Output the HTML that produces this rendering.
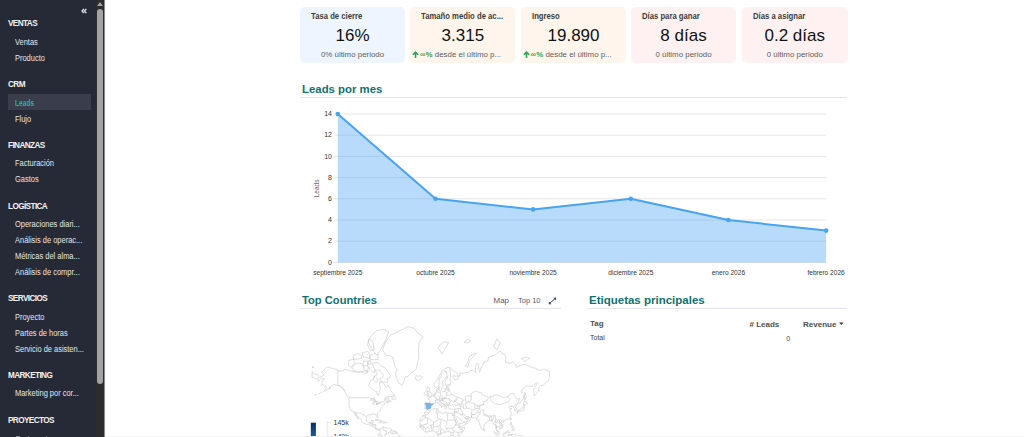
<!DOCTYPE html>
<html><head><meta charset="utf-8">
<style>
*{margin:0;padding:0;box-sizing:border-box}
html,body{width:1024px;height:437px;overflow:hidden;background:#fff;font-family:"Liberation Sans",sans-serif}
.abs{position:absolute;white-space:nowrap}
#side{position:absolute;left:0;top:0;width:96px;height:437px;background:#262a36;color:#e6e6e6}
#track{position:absolute;left:96px;top:0;width:8px;height:437px;background:#2c2c2c}
#thumb{position:absolute;left:97px;top:9px;width:6px;height:375px;background:#a3a3a3;border-radius:3px}
#arrow{position:absolute;left:97px;top:2px;width:0;height:0;border-left:3px solid transparent;border-right:3px solid transparent;border-bottom:4px solid #a3a3a3}
#sb{position:absolute;left:104px;top:0;width:1px;height:437px;background:#8a8a8a}
.h{position:absolute;left:8px;font-weight:bold;font-size:8.2px;letter-spacing:-0.6px;color:#f2f2f2;margin-top:1px}
.it{position:absolute;left:15px;font-size:8.3px;color:#e6e6e6;margin-top:0.2px;transform:scaleX(0.9);transform-origin:0 0}
.card{position:absolute;top:6.5px;height:56.3px;width:105px;border-radius:5px}
.card .l{position:absolute;left:11px;top:4px;font-size:8.4px;font-weight:bold;color:#3c3c3c;transform:scaleX(0.92);transform-origin:0 0}
.card .v{position:absolute;left:0;right:0;top:19px;text-align:center;font-size:17px;color:#111}
.card .s{position:absolute;left:0;right:0;top:43px;text-align:center;font-size:7.9px;color:#5e5e5e}
.card .s2{position:absolute;left:2px;top:43px;font-size:7.9px;color:#5e5e5e;white-space:nowrap}
.title{position:absolute;font-weight:bold;color:#11716f}
.rule{position:absolute;height:1px;background:#e2e2e2}
</style></head><body>
<div id="side">
  <svg style="position:absolute;left:81.4px;top:8.3px" width="6" height="6" viewBox="0 0 7 7"><path d="M3.4 1L1.2 3.5L3.4 6M6.2 1L4 3.5L6.2 6" stroke="#e4e8ee" stroke-width="1.5" fill="none"/></svg>
  <div class="h" style="top:18px">VENTAS</div>
  <div class="it" style="top:37px">Ventas</div>
  <div class="it" style="top:53px">Producto</div>
  <div class="h" style="top:79px">CRM</div>
  <div style="position:absolute;left:8px;top:94px;width:83px;height:16px;background:#3a3d4b"></div>
  <div class="it" style="top:98px;color:#1cb5a3;font-weight:bold;transform:scaleX(0.8)">Leads</div>
  <div class="it" style="top:114px">Flujo</div>
  <div class="h" style="top:140px">FINANZAS</div>
  <div class="it" style="top:158px">Facturación</div>
  <div class="it" style="top:174px">Gastos</div>
  <div class="h" style="top:201px">LOGÍSTICA</div>
  <div class="it" style="top:219px">Operaciones diari...</div>
  <div class="it" style="top:235px">Análisis de operac...</div>
  <div class="it" style="top:251px">Métricas del alma...</div>
  <div class="it" style="top:267px">Análisis de compr...</div>
  <div class="h" style="top:293px">SERVICIOS</div>
  <div class="it" style="top:312px">Proyecto</div>
  <div class="it" style="top:328px">Partes de horas</div>
  <div class="it" style="top:344px">Servicio de asisten...</div>
  <div class="h" style="top:370px">MARKETING</div>
  <div class="it" style="top:388px">Marketing por cor...</div>
  <div class="h" style="top:415px">PROYECTOS</div>
  <div style="position:absolute;left:15.6px;top:436px;width:4.4px;height:1px;background:#8a8d98"></div><div style="position:absolute;left:28px;top:436px;width:1px;height:1px;background:#8a8d98"></div><div style="position:absolute;left:46px;top:436px;width:1.2px;height:1px;background:#8a8d98"></div>
</div>
<div id="track"></div>
<div id="arrow"></div>
<div id="thumb"></div>
<div id="sb"></div>

<!-- KPI cards -->
<div class="card" style="left:300px;background:#eef5ff">
  <div class="l abs">Tasa de cierre</div>
  <div class="v">16%</div>
  <div class="s">0% último periodo</div>
</div>
<div class="card" style="left:410.4px;background:#fff5ec">
  <div class="l abs">Tamaño medio de ac...</div>
  <div class="v">3.315</div>
  <div class="s2"><svg width="7" height="7" viewBox="0 0 7 7" style="vertical-align:-1.2px;margin-right:0.6px"><path d="M3.5 7V1.2M0.8 3.8L3.5 1.1L6.2 3.8" stroke="#2aa55c" stroke-width="1.6" fill="none"/></svg><span style="color:#2ea862;font-weight:bold">∞%</span> desde el último p...</div>
</div>
<div class="card" style="left:521px;background:#fff5ec">
  <div class="l abs">Ingreso</div>
  <div class="v">19.890</div>
  <div class="s2"><svg width="7" height="7" viewBox="0 0 7 7" style="vertical-align:-1.2px;margin-right:0.6px"><path d="M3.5 7V1.2M0.8 3.8L3.5 1.1L6.2 3.8" stroke="#2aa55c" stroke-width="1.6" fill="none"/></svg><span style="color:#2ea862;font-weight:bold">∞%</span> desde el último p...</div>
</div>
<div class="card" style="left:631px;background:#fff1f1">
  <div class="l abs">Días para ganar</div>
  <div class="v">8 días</div>
  <div class="s">0 último periodo</div>
</div>
<div class="card" style="left:742px;width:105.5px;background:#fff1f1">
  <div class="l abs">Días a asignar</div>
  <div class="v">0.2 días</div>
  <div class="s">0 último periodo</div>
</div>

<div class="title abs" style="left:302px;top:82.8px;font-size:11.4px">Leads por mes</div>
<div class="rule" style="left:300px;top:97px;width:547px"></div>
<!--CHART-->
<svg style="position:absolute;left:0;top:0" width="1024" height="437">
<g stroke="#e6e6e6" stroke-width="1"><line x1="333.5" x2="826.1" y1="262.4" y2="262.4"/><line x1="333.5" x2="826.1" y1="241.2" y2="241.2"/><line x1="333.5" x2="826.1" y1="220.0" y2="220.0"/><line x1="333.5" x2="826.1" y1="198.8" y2="198.8"/><line x1="333.5" x2="826.1" y1="177.6" y2="177.6"/><line x1="333.5" x2="826.1" y1="156.4" y2="156.4"/><line x1="333.5" x2="826.1" y1="135.2" y2="135.2"/><line x1="333.5" x2="826.1" y1="114.0" y2="114.0"/></g>
<polygon fill="#4fa6f5" fill-opacity="0.4" points="337.8,262.4 337.8,114.0 435.5,198.8 533.1,209.4 630.8,198.8 728.4,220.0 826.1,230.6 826.1,262.4"/>
<polyline fill="none" stroke="#48a3f2" stroke-width="2" stroke-linejoin="round" points="337.8,114.0 435.5,198.8 533.1,209.4 630.8,198.8 728.4,220.0 826.1,230.6"/>
<g fill="#48a3f2"><circle cx="337.8" cy="114.0" r="2.3"/><circle cx="435.5" cy="198.8" r="2.3"/><circle cx="533.1" cy="209.4" r="2.3"/><circle cx="630.8" cy="198.8" r="2.3"/><circle cx="728.4" cy="220.0" r="2.3"/><circle cx="826.1" cy="230.6" r="2.3"/></g>
<g font-family="Liberation Sans" font-size="7" fill="#333" text-anchor="end"><text x="332" y="264.6">0</text><text x="332" y="243.4">2</text><text x="332" y="222.2">4</text><text x="332" y="201.0">6</text><text x="332" y="179.8">8</text><text x="332" y="158.6">10</text><text x="332" y="137.4">12</text><text x="332" y="116.2">14</text></g>
<g font-family="Liberation Sans" font-size="6.6" fill="#333" text-anchor="middle"><text x="337.8" y="275.3">septiembre 2025</text><text x="435.5" y="275.3">octubre 2025</text><text x="533.1" y="275.3">noviembre 2025</text><text x="630.8" y="275.3">diciembre 2025</text><text x="728.4" y="275.3">enero 2026</text><text x="826.1" y="275.3">febrero 2026</text></g>
<text transform="translate(319.2,188.4) rotate(-90)" font-family="Liberation Sans" font-size="6.5" fill="#666" text-anchor="middle">Leads</text>
</svg>
<!--/CHART-->

<div class="title abs" style="left:302px;top:293.8px;font-size:11.2px">Top Countries</div>
<div class="rule" style="left:300px;top:308px;width:261px;background:#e4e4ee"></div>

<div class="title abs" style="left:589px;top:293.8px;font-size:11.5px">Etiquetas principales</div>
<div class="rule" style="left:587px;top:308px;width:260px;background:#e4e4ee"></div>

<!--MAP-->
<svg style="position:absolute;left:0;top:0" width="1024" height="437"><defs><clipPath id="mc"><rect x="300" y="310" width="260" height="127"/></clipPath><linearGradient id="lg" x1="0" y1="0" x2="0" y2="1"><stop offset="0" stop-color="#08306b"/><stop offset="1" stop-color="#2171b5"/></linearGradient></defs>
<g clip-path="url(#mc)">
<path d="M312.1 371.7L314.8 374.0L317.4 374.8L319.1 376.1L318.1 377.3L317.1 378.8L315.4 378.4L313.1 377.3L312.1 377.6ZM312.1 367.4L313.8 366.4L313.8 367.4L312.1 367.6ZM321.1 393.1L321.7 392.5L320.7 392.7L321.1 393.1ZM318.7 394.1L319.7 393.4L319.4 393.8L318.7 394.1ZM314.5 395.0L316.1 394.4L315.4 394.8L314.5 395.0ZM317.6 379.9L319.4 380.6L318.4 381.1L317.6 379.9ZM321.1 384.7L321.7 385.0L321.2 385.5L321.1 384.7ZM329.0 387.9L330.3 388.0L329.6 389.3L329.0 387.9ZM380.1 443.0L378.5 439.6L377.5 438.3L377.9 437.0L378.1 435.7L378.1 434.5L378.9 433.9L379.8 432.7L379.9 430.7L379.3 429.7L378.1 430.0L377.2 430.0L376.2 429.6L374.8 428.6L374.4 427.7L373.2 426.4L371.9 426.0L370.6 425.7L369.6 424.7L368.6 424.2L367.3 424.5L365.9 424.1L364.3 423.4L362.3 422.4L361.3 421.2L361.4 420.1L360.7 419.2L359.3 417.7L358.7 416.9L357.7 415.8L356.5 414.2L355.2 412.9L355.6 414.2L356.4 415.2L357.0 416.5L357.7 418.0L358.3 419.1L358.7 419.3L358.0 418.5L357.0 417.6L355.7 416.1L355.0 414.6L354.1 413.1L353.6 412.2L352.7 411.1L351.3 410.7L350.5 409.0L350.1 408.0L349.2 406.3L348.9 404.9L349.1 402.6L349.1 400.5L348.6 398.4L349.8 397.8L348.4 396.8L346.8 395.8L346.5 394.2L345.1 392.0L343.8 390.2L341.8 387.8L340.5 386.5L338.5 385.5L335.9 385.2L333.9 384.3L331.9 385.9L331.0 386.3L329.3 388.4L327.3 389.6L325.3 390.8L323.4 391.6L325.3 389.6L326.7 387.2L324.0 385.5L322.4 384.6L321.7 382.5L322.4 380.8L324.7 378.8L323.4 378.8L321.4 378.7L320.1 377.1L322.7 375.7L324.0 375.2L322.7 373.6L321.4 372.4L323.4 370.4L325.3 368.4L327.7 366.8L330.6 367.8L333.3 368.8L336.6 369.4L337.9 370.2L340.5 371.3L342.8 370.4L345.8 369.4L348.4 370.4L351.7 371.3L355.0 371.8L358.3 372.6L361.0 371.7L364.3 373.4L366.3 373.4L367.6 372.2L368.6 366.4L369.9 369.4L372.2 371.7L374.2 372.7L374.8 369.8L376.2 372.7L377.2 374.8L374.2 376.0L373.5 378.8L371.5 379.9L369.6 382.8L368.6 385.9L369.6 386.9L371.5 389.0L374.5 391.0L376.6 391.3L376.8 393.8L377.8 395.2L378.8 395.2L378.9 392.5L380.1 390.2L380.1 387.2L379.5 384.6L379.5 382.2L382.1 382.1L383.8 383.6L385.1 386.5L386.4 387.4L388.0 384.8L388.7 385.9L390.0 388.4L390.7 390.5L392.3 392.3L393.3 393.6L394.1 394.7L393.0 395.3L391.3 396.6L387.1 396.6L385.4 398.3L384.4 399.5L385.7 398.0L388.4 397.7L388.2 399.0L388.0 399.8L388.4 400.6L390.4 401.1L391.3 400.8L390.7 401.5L389.0 402.1L387.5 402.9L387.2 402.0L388.4 401.4L386.6 402.1L385.4 402.6L384.3 403.5L384.4 404.6L383.4 405.2L382.1 405.7L382.1 406.6L381.4 407.2L380.8 408.7L380.9 409.9L380.1 410.7L379.0 411.3L377.8 412.5L377.2 413.9L377.7 415.5L378.1 416.9L377.9 417.8L377.4 417.8L377.0 416.9L376.3 415.6L375.7 414.3L374.6 414.5L373.9 413.9L372.5 413.9L371.9 414.1L371.9 414.9L371.2 414.9L370.2 414.6L368.9 414.6L367.9 415.2L366.8 416.1L366.6 417.6L366.5 418.7L366.4 419.9L366.8 421.2L367.4 422.1L368.2 422.6L368.9 422.8L370.2 422.5L370.9 422.4L371.2 421.7L371.3 420.8L372.9 420.5L373.5 420.5L373.2 421.5L373.0 422.7L372.7 423.8L372.3 424.5L373.2 424.5L374.8 424.4L375.9 424.9L375.8 426.4L375.7 427.7L376.2 428.4L377.2 429.2L378.1 428.8L378.8 428.7L379.8 429.3L380.3 429.4L380.8 428.7L381.2 427.8L382.1 427.5L383.1 427.2L383.8 426.8L383.6 427.7L383.9 427.8L384.7 427.0L384.9 427.4L385.9 428.0L387.4 428.0L388.7 428.0L390.0 427.9L390.7 428.7L391.0 429.4L392.0 429.7L393.0 430.8L394.6 431.1L396.0 431.4L397.0 432.2L397.6 433.7L397.9 434.8L398.9 435.8L400.6 435.7L401.6 436.7L403.2 436.9L405.2 437.3L406.5 438.3L407.7 438.6L408.0 440.3L407.5 441.6L406.5 443.0ZM382.8 349.9L384.7 343.7L390.0 335.4L397.9 332.0L407.8 326.6L414.4 328.3L417.7 333.0L423.0 336.8L419.1 342.9L418.4 352.9L418.7 358.4L417.1 364.3L416.4 368.4L415.1 370.4L411.1 372.7L407.8 376.5L405.2 377.3L403.9 381.1L402.6 384.6L401.9 385.5L400.6 384.2L398.6 383.1L397.3 379.9L396.0 376.5L395.6 372.2L397.3 369.4L395.0 367.4L394.6 364.3L392.7 357.1L390.0 355.7L386.7 355.7L383.4 351.4L382.8 349.9ZM390.4 375.2L389.4 373.4L388.0 371.8L386.1 369.0L384.7 367.8L382.1 366.4L379.5 364.3L378.1 362.7L375.5 362.5L372.2 363.2L373.5 366.4L374.8 369.4L376.8 370.4L379.5 369.8L380.8 372.2L382.4 374.0L383.4 376.0L382.4 377.6L379.8 378.8L380.1 380.8L383.4 381.8L386.7 382.8L388.0 381.4L387.1 378.8L389.4 378.1L390.4 375.2ZM388.7 331.5L383.4 329.4L376.8 330.5L371.5 335.4L368.2 341.0L370.2 346.5L372.9 349.9L375.5 354.1L378.1 354.6L378.8 352.3L380.8 349.2L383.4 344.4L386.1 338.9L388.7 331.5ZM374.2 349.9L370.2 350.5L367.6 344.8L368.9 338.9L372.9 341.0L374.2 349.9ZM378.1 359.6L370.2 359.6L370.2 355.7L374.8 353.5L378.1 355.7L378.1 359.6ZM364.3 371.3L358.3 372.0L353.1 370.4L352.7 367.4L355.0 364.3L358.3 363.2L361.6 363.6L364.0 367.4L364.3 371.3ZM351.7 367.4L348.1 365.4L349.1 360.1L353.7 359.6L354.7 362.5L353.1 364.7L351.7 367.4ZM361.6 358.4L353.7 359.6L353.1 355.7L358.3 353.5L361.6 355.7L361.6 358.4ZM367.6 366.4L363.0 365.4L363.6 360.8L367.6 361.3L367.6 366.4ZM370.9 364.3L368.2 364.3L368.2 360.8L370.9 360.8L370.9 364.3ZM369.6 358.4L363.6 357.1L362.3 352.9L367.6 351.4L369.6 354.3L369.6 358.4ZM378.1 380.3L376.2 382.2L373.5 379.9L374.2 376.5L376.2 377.3L378.1 380.3ZM367.6 372.2L365.6 372.2L365.6 370.4L367.6 370.4L367.6 372.2ZM415.1 377.3L416.4 375.8L419.1 376.1L421.0 375.8L422.0 377.8L421.0 379.1L418.4 380.5L416.1 379.9L415.1 377.3ZM391.9 399.2L394.3 395.1L395.3 397.3L396.0 399.3L395.3 400.0L394.0 399.6L391.9 399.2ZM374.8 420.2L376.8 419.3L380.1 420.1L382.0 421.4L379.8 421.6L377.5 420.4L374.8 420.2ZM381.8 422.6L383.1 421.7L384.9 421.8L385.8 422.6L383.8 423.1L381.8 422.6ZM379.3 422.7L380.6 422.8L380.1 423.1L379.3 422.7ZM386.6 422.6L387.6 422.7L387.4 422.9L386.6 422.6ZM427.2 409.5L426.8 408.9L426.1 408.5L425.1 408.7L425.1 407.3L424.7 407.2L425.1 405.7L425.1 404.4L424.8 403.5L425.7 402.9L427.6 403.1L429.8 403.2L430.1 402.2L430.1 400.8L429.5 399.7L428.0 398.9L427.9 398.2L429.9 398.1L430.1 397.1L431.1 397.3L432.0 396.6L432.6 395.7L433.3 395.2L433.9 394.2L434.1 393.6L435.2 393.1L436.6 392.7L436.6 391.4L436.3 389.5L437.9 388.2L437.9 389.6L437.5 391.4L438.2 392.5L439.2 392.1L440.2 392.5L441.5 392.0L443.2 391.7L444.8 391.4L444.8 389.3L445.2 388.4L446.1 389.0L447.0 388.8L446.8 387.2L446.5 386.3L449.4 385.9L450.7 385.2L449.4 384.6L445.8 385.2L445.1 383.9L445.1 381.1L447.4 378.1L447.8 377.3L446.8 376.8L445.5 377.3L444.8 378.8L443.5 380.3L442.5 381.8L442.3 383.9L443.2 385.2L442.8 386.5L441.8 388.4L441.5 390.0L440.4 390.8L439.4 390.5L439.2 389.0L438.7 387.8L438.2 386.5L437.9 385.9L436.2 387.8L434.6 386.7L434.2 384.6L434.2 382.5L435.6 381.1L436.9 380.3L437.9 378.8L439.2 376.5L440.2 374.0L441.2 372.2L442.8 370.0L444.8 369.0L448.0 367.2L449.8 367.6L451.4 368.8L452.7 370.6L455.0 371.1L457.3 373.4L458.1 375.2L456.0 376.5L453.9 375.5L452.7 376.0L454.0 379.0L455.7 379.9L457.7 378.8L458.7 375.8L460.0 376.1L459.9 372.6L461.3 372.9L463.3 373.4L465.9 372.2L466.9 372.6L469.6 371.7L470.5 370.4L473.5 370.7L475.5 372.2L476.2 372.7L475.2 367.8L476.5 363.2L478.1 363.6L479.0 368.4L479.5 372.2L480.4 370.4L481.4 367.0L483.1 364.3L484.1 362.0L488.0 360.8L488.4 357.9L493.0 355.7L496.3 354.3L499.8 350.8L502.2 353.8L504.2 354.3L505.9 357.1L505.5 362.0L509.5 363.2L512.5 362.0L515.4 364.3L516.4 367.4L518.1 366.4L523.0 364.5L526.6 364.9L529.9 366.4L531.9 367.6L536.2 368.2L537.2 370.2L541.2 370.4L543.5 369.4L547.1 370.4L549.7 371.7L549.7 377.6L548.8 378.7L547.8 381.8L545.8 382.8L543.1 385.2L540.5 385.4L538.9 387.2L538.5 390.0L537.9 392.0L535.6 394.2L534.2 395.8L533.9 393.1L533.6 389.0L534.6 387.8L536.5 384.6L537.9 383.2L536.5 382.8L533.2 386.1L531.3 386.4L528.6 386.1L525.3 386.1L523.7 388.4L522.0 390.2L521.0 392.0L522.7 392.5L523.7 393.6L524.3 394.5L523.7 396.8L523.5 398.3L522.4 399.8L520.4 402.8L518.7 403.7L517.4 403.9L516.5 405.3L515.4 406.5L516.3 408.7L516.3 410.1L514.8 410.7L514.3 410.6L514.5 408.9L514.1 408.1L513.4 407.7L513.6 406.6L513.0 406.3L511.5 405.7L511.0 407.0L511.1 406.6L509.8 406.3L508.8 406.9L509.2 407.9L509.7 408.6L511.8 408.4L510.5 409.4L509.7 410.3L510.5 411.5L511.3 412.9L511.1 413.6L511.5 414.4L510.7 415.9L509.8 417.6L508.5 419.0L506.8 419.6L505.9 420.0L504.5 420.5L503.7 421.3L503.3 420.5L502.2 420.5L501.4 421.2L500.7 422.3L501.6 423.6L502.7 424.7L503.1 426.4L502.9 427.5L501.6 428.1L500.2 429.2L500.1 428.5L499.9 428.0L498.9 427.5L498.6 426.9L497.5 426.6L497.3 426.0L496.7 426.7L496.4 428.2L497.1 429.7L497.3 430.7L498.3 431.0L499.2 432.0L499.3 433.2L499.7 434.1L499.2 434.2L497.8 433.2L497.2 432.2L497.1 430.9L496.8 430.6L495.8 429.6L496.0 428.0L496.0 427.0L495.5 424.7L495.4 424.0L493.8 424.5L493.2 424.0L493.3 422.6L492.3 421.7L491.9 420.8L491.5 419.9L490.7 419.8L489.7 420.3L488.4 420.6L488.2 421.2L487.0 421.9L485.3 423.8L483.9 424.7L483.9 426.3L483.6 428.2L482.6 429.1L482.1 429.6L481.5 429.1L480.8 427.2L480.1 425.3L479.3 423.3L479.0 421.9L478.9 420.6L478.9 419.9L477.8 421.0L476.5 419.9L477.3 419.5L476.2 418.9L475.4 418.1L474.9 417.6L473.5 417.8L471.6 417.8L469.6 417.5L468.8 417.4L468.4 416.4L467.0 416.8L465.6 416.1L464.8 415.8L464.1 414.2L463.3 413.9L462.9 414.2L462.6 414.8L463.0 415.8L463.6 416.5L464.1 416.9L464.2 417.7L464.5 418.1L465.0 417.3L465.0 418.4L466.6 418.5L467.6 417.7L468.2 417.0L468.1 418.0L468.8 418.8L469.8 419.1L470.4 419.8L469.8 421.1L469.1 421.4L469.0 422.3L468.4 422.9L467.4 423.4L465.4 424.5L463.6 425.3L462.0 426.0L460.6 426.5L459.7 426.6L459.2 425.1L459.1 424.4L458.5 423.3L457.9 422.2L456.8 420.5L456.4 419.1L455.5 417.8L454.6 416.1L454.0 415.7L454.0 414.6L453.5 415.6L452.9 415.4L452.5 414.3L453.1 416.4L454.4 418.8L455.5 420.8L455.6 422.6L456.4 423.1L457.1 424.7L458.1 425.3L459.0 426.4L459.5 427.1L460.3 428.1L462.0 427.7L463.6 427.5L464.7 427.1L464.6 428.1L464.5 429.0L463.8 430.2L462.6 432.0L461.3 433.7L459.3 435.3L458.3 436.3L457.3 437.3L457.0 439.0L456.9 440.3L457.7 443.0L439.9 443.0L439.5 440.6L439.1 439.0L438.9 438.1L437.5 436.7L437.1 435.0L437.3 433.0L436.7 432.0L434.9 432.2L433.9 430.8L432.3 430.8L430.3 431.6L429.0 431.7L426.0 432.2L424.7 431.4L423.4 430.4L422.2 429.2L421.0 427.8L419.9 426.7L419.5 425.2L420.1 424.2L420.2 421.9L419.7 420.8L420.7 418.7L421.4 417.2L422.4 416.0L423.4 415.5L424.5 414.5L424.7 412.3L426.3 411.1L427.0 409.7L427.6 410.2L429.6 410.3L430.9 409.6L432.9 408.9L435.2 408.7L436.6 408.8L437.7 408.5L438.2 408.8L437.7 410.2L438.2 411.1L437.6 411.3L438.5 411.8L439.9 412.1L441.0 412.5L442.5 413.6L443.6 414.0L444.2 412.8L445.1 412.0L446.5 412.5L447.4 413.0L449.1 413.2L450.7 413.2L451.7 413.1L452.3 413.3L453.5 413.2L454.0 412.0L454.6 410.3L454.7 409.0L454.4 409.0L453.4 409.4L452.4 409.4L451.1 409.0L450.1 409.0L449.0 408.7L448.3 407.5L448.6 406.6L448.2 405.9L448.2 405.4L447.4 405.4L446.8 405.6L446.5 406.2L445.9 406.0L445.9 407.1L446.8 407.7L446.3 408.2L446.0 409.1L445.3 408.9L444.9 408.0L445.1 407.6L444.3 406.5L443.7 405.3L443.8 404.6L443.2 404.0L442.2 403.3L441.2 402.6L440.4 401.5L440.0 401.0L439.1 401.4L439.1 402.2L439.9 403.1L440.6 404.3L441.5 404.9L442.5 405.5L443.2 406.1L442.2 406.6L442.2 407.0L441.9 407.5L441.3 407.9L441.6 407.0L441.3 406.2L440.7 405.7L440.1 405.1L438.9 404.5L438.3 404.1L437.9 403.5L437.7 402.7L436.8 402.3L435.9 402.8L434.9 403.4L433.9 403.2L433.0 403.4L433.1 404.4L432.3 405.1L431.5 405.3L430.9 406.2L430.7 406.6L431.1 407.3L430.5 408.2L429.5 408.9L428.0 408.9L427.2 409.5ZM427.2 396.8L429.0 396.2L431.9 395.6L432.1 394.0L431.1 393.1L430.0 391.4L429.6 390.2L429.0 390.2L429.8 388.3L428.6 387.0L427.6 387.0L426.9 388.4L427.3 390.2L427.6 391.4L429.0 391.6L429.0 392.7L429.0 393.3L427.9 393.4L428.2 394.4L427.5 395.0L429.0 395.2L428.0 395.6L427.2 396.8ZM427.0 394.5L427.0 392.6L427.3 391.7L426.3 391.0L425.3 392.0L424.3 392.5L424.3 394.7L424.7 395.2L425.7 395.0L427.0 394.5ZM438.2 348.2L440.8 343.7L444.1 341.8L448.8 342.5L445.5 348.2L442.2 354.1L439.9 350.5L438.2 348.2ZM465.3 366.4L467.9 362.0L469.2 357.1L474.5 353.2L476.5 353.2L470.5 359.6L468.6 363.6L467.9 367.4L465.3 366.4ZM493.6 346.5L496.9 338.9L500.2 342.9L496.9 349.9L493.6 346.5ZM521.4 358.4L527.3 357.1L529.9 358.4L524.7 361.3L521.4 358.4ZM463.9 342.2L467.2 339.3L470.5 340.6L467.9 342.9L463.9 342.2ZM524.7 400.8L525.7 397.8L526.3 397.8L525.0 392.2L524.5 394.7L524.7 400.8ZM517.3 411.1L517.7 410.7L520.0 409.8L521.2 408.5L523.0 407.6L523.3 405.7L524.3 405.0L524.7 406.6L524.0 408.9L523.9 409.9L523.2 410.3L522.5 410.6L521.4 410.7L520.2 411.4L518.3 411.0L517.3 411.1ZM523.3 404.9L523.3 403.3L524.5 401.3L526.8 402.3L527.2 403.3L525.7 404.4L524.0 404.8L523.3 404.9ZM516.6 411.8L517.7 411.1L518.1 411.9L517.5 413.3L516.9 413.2L516.6 411.8ZM510.8 417.7L511.5 418.0L510.7 420.1L510.1 419.4L510.8 417.7ZM502.6 422.1L503.9 421.5L504.2 421.8L503.2 422.8L502.6 422.1ZM510.5 422.6L511.6 422.6L511.5 424.0L512.8 426.4L511.1 425.8L510.5 425.3L510.1 424.3L510.5 422.6ZM511.5 430.4L513.8 428.5L514.4 430.0L513.8 431.0L511.5 430.4ZM511.5 427.4L513.1 426.7L513.8 427.7L512.5 428.7L511.5 428.0L511.5 427.4ZM483.6 428.7L484.9 430.0L484.7 430.9L483.7 431.0L483.6 428.7ZM502.9 434.0L503.2 435.7L503.9 437.0L506.5 437.7L507.8 437.0L508.8 434.4L509.5 431.7L508.2 430.4L506.8 431.7L505.5 432.9L504.2 433.8L502.9 434.0ZM493.8 431.3L495.6 432.4L497.3 434.4L499.6 436.0L500.9 437.3L500.6 439.0L498.3 437.7L496.3 435.3L494.6 433.0L493.8 431.3ZM509.5 434.4L510.5 434.7L513.4 434.0L510.8 434.7L512.1 435.7L511.1 436.3L511.8 438.3L510.5 438.6L509.8 437.3L509.5 434.4ZM517.4 435.8L519.4 435.5L522.0 436.1L524.0 436.7L526.6 437.7L528.0 439.0L524.0 441.0L520.0 438.0L518.1 436.9L517.4 435.8ZM515.1 433.7L515.8 434.4L515.4 435.5L515.1 433.7ZM449.1 404.0L449.4 404.8L450.1 405.1L451.7 405.2L453.1 404.4L454.2 404.4L456.0 405.4L458.3 404.9L458.5 403.8L457.3 403.1L456.0 402.2L455.1 401.4L454.0 401.7L453.1 402.2L452.4 401.3L451.2 400.3L450.5 401.5L449.8 402.9L449.1 404.0ZM454.0 401.4L454.2 400.5L456.7 399.6L456.0 400.8L455.1 401.4L454.0 401.4ZM462.0 402.2L463.3 400.3L464.6 399.8L465.9 400.3L466.3 401.7L464.9 403.5L465.6 404.9L466.3 406.2L465.9 408.3L464.6 408.9L463.3 408.3L463.6 406.2L463.0 404.4L462.3 403.5L462.0 402.2ZM370.2 400.1L372.2 398.5L374.2 398.0L375.1 399.8L373.5 400.3L370.2 400.1ZM373.0 404.7L372.9 402.2L374.8 400.8L374.2 403.1L373.9 404.4L373.0 404.7ZM375.5 400.8L377.2 401.4L378.1 402.2L376.5 403.5L375.8 402.6L375.5 400.8ZM375.9 404.7L378.8 403.7L377.8 404.0L376.2 404.4L375.9 404.7ZM378.3 403.3L380.6 402.4L380.5 403.3L378.3 403.3Z" fill="#fff" stroke="#c6c6c6" stroke-width="0.6" stroke-linejoin="round"/>
<path d="M349.8 397.8L368.2 397.8L368.2 397.4L371.9 398.8L375.2 400.3L376.5 401.4L376.6 403.5L376.2 404.4L378.8 403.7L378.8 403.3L380.5 402.4L381.6 401.7L383.8 401.7L384.7 400.3L386.1 399.4L386.2 401.0L386.7 401.9M337.9 370.2L337.9 384.8L339.2 385.2L340.2 386.5L342.8 387.8L345.1 390.8M353.7 412.3L355.2 412.2L357.7 413.2L359.5 413.2L360.7 412.9L362.0 414.6L363.0 415.0L364.0 414.4L365.3 416.1L366.8 417.3M370.1 425.3L370.2 423.1L370.9 423.1L372.1 423.1L372.7 422.6M372.1 423.1L372.1 424.4M371.5 425.9L372.0 425.4L372.7 424.5M373.1 426.2L373.9 425.7L374.8 425.0L376.0 425.0M374.4 427.6L375.7 427.8M376.2 429.6L376.4 428.6M379.6 430.2L380.0 429.3M383.6 427.3L383.1 428.4L383.3 430.4L384.7 430.5L386.4 431.0L386.2 433.7L384.7 434.2L385.1 435.7L384.7 437.5M391.3 429.4L390.7 431.4L391.3 431.7L388.7 432.4L388.4 434.0L386.2 433.7M393.3 431.0L392.7 432.4L393.3 434.0L394.6 433.6L395.3 432.7M395.3 431.4L395.3 432.7L396.6 433.6L396.9 432.3M390.7 431.4L391.5 434.0L393.3 434.0M378.8 434.2L380.1 434.7L381.2 435.1L381.1 436.3L379.1 437.3L377.9 437.3M381.2 435.1L382.4 436.0L384.7 437.5M384.7 437.5L382.8 439.6L384.1 441.6M429.8 403.2L430.9 403.8L433.1 404.1M425.1 404.4L425.7 404.6L426.7 404.5L426.4 405.3L426.0 406.4L426.3 407.5L426.1 408.5M432.6 395.7L433.6 396.5L434.8 397.3L436.4 397.8L436.0 399.2L434.9 400.5L435.6 400.8L435.6 402.4L435.9 402.8M433.3 395.2L434.6 395.5L434.9 396.1L435.0 396.7L434.8 397.3M435.2 393.1L435.6 394.5L434.9 394.9L434.9 396.1M436.0 399.2L437.2 399.3L437.9 400.0L439.0 399.8L440.0 400.3L440.0 401.0M434.9 400.5L436.6 400.8L437.9 400.0M436.6 391.4L437.2 391.6M437.2 399.3L439.5 399.3L439.5 398.3L440.2 398.0L438.9 396.5L440.7 395.8L440.3 392.6M439.5 398.3L442.2 398.8L442.3 398.7L441.5 400.1L440.0 400.3M440.7 395.8L443.4 397.3L445.8 397.8L446.8 396.3L446.5 394.7L446.5 392.7L444.8 391.4M442.2 398.8L443.4 397.3M442.3 398.7L445.8 398.4L445.8 397.8M441.5 400.1L445.8 398.4L446.8 398.9L448.5 398.5L449.6 401.2L450.5 401.5M441.5 400.1L443.5 400.8L445.1 401.6L445.8 402.3L447.4 402.9L449.8 402.9M440.0 401.0L441.2 400.4L443.5 400.8M441.2 402.6L442.6 403.5L443.8 404.0L444.6 404.4M443.8 404.6L444.6 404.4L446.0 405.0L448.2 404.6L449.4 404.4M444.3 406.5L444.8 405.7L446.0 405.0M445.8 402.3L446.1 403.5L446.0 405.0M448.5 398.5L449.4 398.3L450.7 400.3M446.5 394.7L449.4 395.2L452.1 394.4L454.0 395.6L457.3 397.2L456.2 399.5M446.5 392.7L447.8 392.3L449.4 390.2L451.9 394.6M444.8 389.3L448.1 390.5L449.4 390.2M447.0 388.8L449.1 388.4L449.4 390.2M446.5 386.3L449.1 388.4M449.4 384.6L450.7 383.1L450.1 379.6L450.7 374.0L449.8 371.3L449.8 367.6M447.4 378.1L446.8 372.2L444.8 371.3L444.1 371.3M439.2 389.0L438.9 385.9L439.2 383.9L438.9 380.3L440.5 377.3L442.2 373.1L444.1 371.3L446.8 372.2M424.7 412.3L427.6 412.7L429.6 412.6L430.0 410.3M422.4 416.0L425.2 416.0L425.2 414.6L427.6 414.2L429.6 412.6M419.7 420.8L422.4 420.6L422.4 419.4L425.2 417.8L425.2 416.0M425.2 417.8L427.6 418.0L427.6 424.0L423.4 424.7L422.9 425.2L420.1 424.2M427.6 418.0L431.6 420.5L433.6 422.1L433.7 424.0L431.6 425.0L430.6 425.0L429.6 425.1L428.3 426.2L427.3 428.0L425.5 428.2L423.8 426.9L422.9 425.2M436.6 408.8L436.4 410.7L435.9 411.9L437.2 414.1L437.5 418.0L438.9 419.1L440.8 419.2L441.2 421.0L440.2 424.5L439.9 425.7M438.5 411.8L437.2 414.1M433.6 422.1L434.9 421.9L438.9 419.1M433.7 424.0L433.3 427.2L435.6 426.4L437.5 426.2L439.9 425.7M433.3 427.2L432.8 429.0L432.7 430.8M431.6 425.0L431.7 427.6L431.1 427.7L431.7 431.0M430.6 425.0L430.8 427.6M429.1 427.8L429.0 431.7M425.5 428.2L425.8 429.4L425.3 430.0L426.0 432.2M423.8 426.9L423.4 428.2L422.2 429.2M423.4 428.2L424.0 429.5L423.4 430.4M419.9 426.7L423.4 426.7M420.0 426.0L421.8 426.0L420.0 426.2M447.4 413.0L447.4 420.1L446.8 421.5L446.8 421.9L441.5 419.1L440.8 419.2M447.4 420.1L455.2 420.1M446.8 421.9L446.8 424.5L445.8 425.7L445.5 426.5L446.3 427.7L446.1 429.1L446.9 429.2L449.0 431.6L451.3 432.7M439.9 425.7L440.2 427.0L441.2 428.5L440.5 430.1L441.2 430.0L443.2 429.7L445.3 432.2L447.4 431.7L449.0 431.6M437.5 426.2L439.2 428.9L438.5 430.7L437.1 432.2L436.7 432.0M440.5 430.1L440.5 432.0L441.5 433.8L443.2 432.7L443.2 432.2L445.3 432.2M437.4 433.5L438.4 433.6L441.5 433.8M438.4 433.6L438.3 437.7M440.5 432.0L439.5 438.0M455.2 420.1L456.4 422.9L455.0 425.5L453.5 427.8L452.7 429.8L454.0 431.7L453.1 432.5L451.3 432.7M446.1 429.1L448.1 428.2L450.7 428.5L453.5 427.8M455.0 425.5L457.1 424.7M459.0 426.4L458.5 427.2L459.5 427.1M458.5 427.2L460.0 429.0L462.6 429.7L462.0 431.8L458.5 432.4L458.0 436.1M454.0 431.7L458.5 432.4M453.1 432.5L453.4 434.2L453.3 435.7L455.7 437.4L456.9 438.1M451.3 432.7L450.7 434.4L450.5 435.8L450.1 437.0L450.4 439.0M453.3 435.7L450.7 435.7M448.2 404.6L449.4 405.1M454.7 409.0L456.0 408.9L459.0 408.5L460.5 408.5L460.2 406.7L459.7 405.2L458.3 404.9M454.6 410.3L455.0 410.7L454.6 411.8L454.0 412.0M454.6 411.8L456.6 411.6L458.0 410.8L459.0 408.5M456.6 411.6L456.8 412.6L455.4 413.1L454.0 414.6M454.4 413.5L454.4 411.9M456.8 412.6L458.7 413.3L461.6 414.9L462.6 414.8M460.5 408.5L461.0 409.9L462.3 411.9L462.9 414.2M461.6 414.9L460.5 414.9M454.0 414.6L455.7 415.8L459.7 418.7L462.6 421.2L465.3 422.2L467.2 421.5L468.2 419.8L468.1 418.0M467.2 421.5L465.4 424.5M465.3 422.2L461.6 423.4L459.4 423.8L459.2 424.5M465.0 418.4L467.4 419.6L467.9 420.1M458.5 403.8L459.3 404.2L460.6 404.6L461.6 405.1L462.0 402.2M460.2 406.7L461.0 406.4L462.8 407.5M457.3 397.2L462.0 398.8L463.0 400.3M465.9 400.3L465.3 396.6L467.2 395.8L471.2 396.0L471.2 393.1L473.8 392.0L476.5 390.9L479.1 392.5L481.1 392.3L482.1 394.5L485.7 395.9L488.5 397.7M488.5 397.7L490.3 396.3L493.0 396.3L495.6 394.7L498.3 395.2L500.9 396.5L503.5 397.6L506.5 396.8L508.0 397.0L509.8 393.8L513.8 393.6L515.1 397.1L517.4 399.0L519.7 398.4L518.7 401.7L517.4 403.9M488.5 397.7L487.4 399.8L485.4 401.4L483.7 401.7L483.9 404.3L481.1 405.7L479.5 406.6M490.3 396.3L491.0 400.5L494.6 403.7L500.2 404.8L504.5 403.1L508.2 402.2L510.0 399.8L508.0 397.0M471.2 396.0L471.2 400.0M465.3 404.9L467.9 401.5L470.5 402.6L471.9 403.1L474.5 403.5L476.5 405.1L479.1 405.5L483.9 404.3M466.3 406.2L466.9 408.3L469.9 408.4L471.2 409.3L472.2 410.1M467.9 401.5L469.6 401.2L471.2 400.0M474.5 403.5L475.2 408.5L472.2 410.1L471.2 413.1L472.9 414.6L474.8 414.4L477.8 412.3L477.7 411.1L479.9 408.7L479.5 406.6M475.2 408.5L477.1 408.3L479.9 408.7M476.5 405.1L477.5 407.0L479.5 406.6M471.2 413.1L471.6 417.8M474.8 414.4L471.9 414.7L471.6 417.8M477.8 412.3L480.1 412.3L480.4 410.7L482.4 409.9L483.7 409.9L483.1 412.3L484.4 414.2L489.0 416.1L489.7 415.8L491.7 416.0L495.0 415.5L495.6 418.7L497.6 420.5L498.3 419.8L500.9 419.6L502.2 420.4M480.1 412.3L480.1 413.9L478.1 416.1L477.1 418.3L476.2 418.9M484.4 414.2L483.7 415.2L489.0 416.9L489.0 416.1M489.0 416.9L489.7 417.2L489.2 418.3L489.7 420.1L492.1 420.5L492.0 418.3L491.7 418.0L490.2 416.9L491.7 416.6L491.7 416.0M492.1 420.5L493.0 418.7L493.8 417.1L495.0 415.5M495.6 418.7L495.3 422.2L496.3 422.6L497.3 421.4L497.6 420.5M497.3 421.4L498.3 422.9L499.9 423.4L500.7 424.4L500.7 425.5L498.7 426.4L498.6 426.9M496.3 422.6L495.9 424.3L496.4 428.2M500.7 425.5L501.6 425.5L501.9 426.8L501.0 427.7L500.2 427.8L499.9 428.0M498.3 419.8L499.9 421.2L499.6 422.4L501.9 423.6L501.9 425.3M497.3 430.7L497.7 431.2L498.3 431.0M513.4 406.6L515.8 404.4L516.7 403.8M514.5 408.0L515.8 407.5M503.2 434.0L506.8 432.0L508.8 432.2M524.0 436.7L524.0 441.0" fill="none" stroke="#c6c6c6" stroke-width="0.6" stroke-linejoin="round"/>
<path d="M424.8 403.5L425.7 402.9L427.6 403.1L429.8 403.2L430.9 403.8L433.1 404.1L433.1 404.4L432.3 405.1L431.5 405.3L430.9 406.2L430.7 406.6L431.1 407.3L430.5 408.2L429.5 408.9L428.0 408.9L427.2 409.5L426.8 408.9L426.1 408.5L426.3 407.5L426.0 406.4L426.4 405.3L426.7 404.5L425.7 404.6L425.1 404.4L424.8 403.5Z" fill="#79b5e2" stroke="#6aa9da" stroke-width="0.4"/>
</g>
<rect x="310.8" y="422.7" width="5.1" height="20" fill="url(#lg)"/>
<path d="M327.2 421V437M327.2 422.3H331" stroke="#d8d8d8" stroke-width="0.6" fill="none"/>
<text x="333.5" y="424.6" font-family="Liberation Sans" font-size="7" fill="#333">145k</text>
<text x="333.5" y="439" font-family="Liberation Sans" font-size="7" fill="#333">140k</text>
</svg>
<!--/MAP-->
<div class="abs" style="left:493.5px;top:296px;font-size:8px;color:#714b67">Map</div>
<div class="abs" style="left:518px;top:296px;font-size:7.5px;color:#555a66">Top 10</div>
<svg style="position:absolute;left:548px;top:297px" width="9" height="8" viewBox="0 0 9 8"><path d="M1.5 6.5L7.5 1.2" stroke="#374151" stroke-width="1" fill="none"/><path d="M5.3 0.8H8V3.5Z M0.8 4.5V7.2H3.5Z" fill="#374151"/></svg>
<div class="abs" style="left:590px;top:319.2px;font-size:8px;font-weight:bold;color:#505050">Tag</div>
<div class="abs" style="left:749.5px;top:319.6px;font-size:8px;font-weight:bold;color:#505050"># Leads</div>
<div class="abs" style="left:803px;top:319.6px;font-size:8px;font-weight:bold;color:#505050">Revenue</div>
<svg style="position:absolute;left:839px;top:322px" width="5" height="4"><path d="M0 0.5H4.6L2.3 3Z" fill="#3b3b3b"/></svg>
<div class="abs" style="left:590px;top:334.3px;font-size:7px;color:#444">Total</div>
<div class="abs" style="left:786.3px;top:334.6px;font-size:7px;color:#444">0</div>
<div style="position:absolute;left:105px;top:436px;width:919px;height:1px;background:#f1f1f1"></div>
</body></html>
